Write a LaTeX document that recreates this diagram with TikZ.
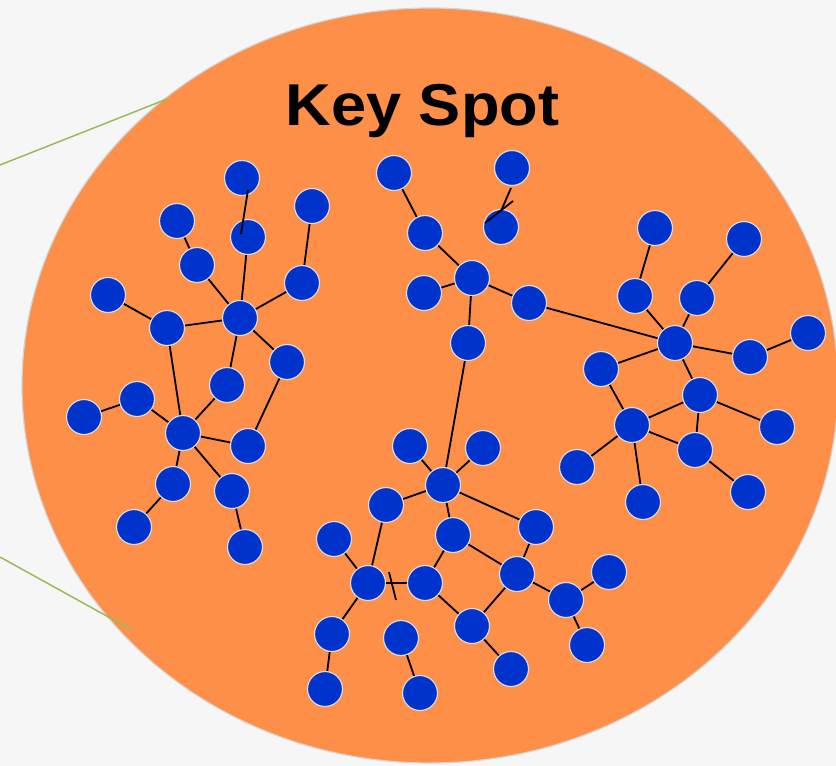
\documentclass[tikz,border=0pt]{standalone}
\usepackage{fontspec}
\setmainfont{Liberation Sans}
\definecolor{bgc}{HTML}{F6F6F6}
\definecolor{spot}{HTML}{FD8F48}
\definecolor{nodeblue}{HTML}{0033CC}
\definecolor{nodeedge}{HTML}{DADADA}
\definecolor{rimc}{HTML}{D4D4D4}
\definecolor{leader}{HTML}{9BBB59}
\pgfdeclarelayer{bg}
\pgfdeclarelayer{links}
\pgfsetlayers{bg,links,main}
\tikzset{
  nd/.style={circle, fill=nodeblue, draw=nodeedge, line width=1.2pt, minimum size=35pt, inner sep=0pt},
  lk/.style={draw=black, line width=1.8pt},
  leadline/.style={draw=leader, line width=1.5pt}
}
\begin{document}
\begin{tikzpicture}[x=1pt,y=-1pt]
\useasboundingbox (0,0) rectangle (836,766);
\clip (0,0) rectangle (836,766);
\begin{pgfonlayer}{bg}
\fill[bgc] (0,0) rectangle (836,766);
\coordinate (spotc) at (430,385.5);
\filldraw[fill=spot, draw=rimc, line width=1.2pt] (spotc) ellipse [x radius=408, y radius=377.5];
\coordinate (l1a) at (0,165);
\coordinate (l1b) at (167,99);
\coordinate (l2a) at (0,557);
\coordinate (l2b) at (132,630);
\draw[leadline] (l1a) -- (l1b);
\draw[leadline] (l2a) -- (l2b);
\end{pgfonlayer}
\node[anchor=base, font=\bfseries\fontsize{59}{60}\selectfont, xscale=1.07, inner sep=0pt] (title) at (422.5,125) {Key Spot};
% cluster A
\node[nd] (a1) at (242,178) {};
\node[nd] (a2) at (248,237) {};
\node[nd] (a3) at (177,221) {};
\node[nd] (a4) at (312,206) {};
\node[nd] (a5) at (197,265) {};
\node[nd] (a6) at (302,283) {};
\node[nd] (a7) at (108,295) {};
\node[nd] (a8) at (167,328) {};
\node[nd] (a9) at (240,318) {};
\node[nd] (a10) at (287,362) {};
\node[nd] (a11) at (227,385) {};
\node[nd] (a12) at (137,399) {};
\node[nd] (a13) at (84,417) {};
\node[nd] (a14) at (183,433) {};
\node[nd] (a15) at (248,446) {};
\node[nd] (a16) at (173,484) {};
\node[nd] (a17) at (232,491) {};
\node[nd] (a18) at (134,527) {};
\node[nd] (a19) at (245,547) {};
% cluster B
\node[nd] (b1) at (394,173) {};
\node[nd] (b2) at (425,233) {};
\node[nd] (b3) at (424,293) {};
\node[nd] (b4) at (512,168) {};
\node[nd] (b5) at (501,227) {};
\node[nd] (b6) at (472,278) {};
\node[nd] (b7) at (529,303) {};
\node[nd] (b8) at (468,343) {};
% cluster C
\node[nd] (c1) at (655,228) {};
\node[nd] (c2) at (744,239) {};
\node[nd] (c3) at (635,296) {};
\node[nd] (c4) at (697,298) {};
\node[nd] (c5) at (675,343) {};
\node[nd] (c6) at (808,333) {};
\node[nd] (c7) at (750,357) {};
\node[nd] (c8) at (601,369) {};
\node[nd] (c9) at (700,395) {};
\node[nd] (c10) at (632,425) {};
\node[nd] (c11) at (777,427) {};
\node[nd] (c12) at (577,467) {};
\node[nd] (c13) at (695,450) {};
\node[nd] (c14) at (643,502) {};
\node[nd] (c15) at (748,492) {};
% cluster D
\node[nd] (d1) at (410,446) {};
\node[nd] (d2) at (386,505) {};
\node[nd] (d3) at (334,539) {};
\node[nd] (d4) at (368,583) {};
\node[nd] (d5) at (425,583) {};
\node[nd] (d6) at (332,634) {};
\node[nd] (d7) at (401,638) {};
\node[nd] (d8) at (325,689) {};
\node[nd] (d9) at (420,693) {};
\node[nd] (d10) at (483,448) {};
\node[nd] (d11) at (443,485) {};
\node[nd] (d12) at (536,527) {};
\node[nd] (d13) at (453,535) {};
\node[nd] (d14) at (517,574) {};
\node[nd] (d15) at (609,572) {};
\node[nd] (d16) at (566,600) {};
\node[nd] (d17) at (472,626) {};
\node[nd] (d18) at (587,645) {};
\node[nd] (d19) at (511,669) {};
\begin{pgfonlayer}{links}
\foreach \u/\v in {a3/a5,a5/a9,a2/a9,a4/a6,a6/a9,a7/a8,a8/a9,a9/a10,a9/a11,a8/a14,a10/a15,a11/a14,a12/a13,a12/a14,a14/a15,a14/a16,a14/a17,a16/a18,a17/a19,
  b1/b2,b2/b6,b3/b6,b6/b7,b6/b8,b7/c5,b8/d11,
  c1/c3,c2/c4,c3/c5,c4/c5,c5/c7,c7/c6,c5/c8,c5/c9,c8/c10,c10/c9,c9/c11,c9/c13,c10/c12,c10/c13,c10/c14,c13/c15,
  d1/d11,d10/d11,d11/d2,d11/d12,d11/d13,d13/d5,d13/d14,d12/d14,d5/d17,d14/d17,d14/d16,d16/d15,d16/d18,d17/d19,d7/d9,d2/d4,d3/d4,d4/d6,d6/d8,d4/d5}
  \draw[lk] (\u.center) -- (\v.center);
\end{pgfonlayer}
% stray strokes drawn over the circles
\coordinate (s1a) at (248,190);
\coordinate (s1b) at (241,234);
\coordinate (s2a) at (511,188);
\coordinate (s2b) at (501,211);
\coordinate (s3a) at (485,223);
\coordinate (s3b) at (513,201);
\coordinate (s4a) at (389,572);
\coordinate (s4b) at (396,600);
\draw[lk] (s1a) -- (s1b);
\draw[lk] (s2a) -- (s2b);
\draw[lk] (s3a) -- (s3b);
\draw[lk] (s4a) -- (s4b);
\end{tikzpicture}
\end{document}
